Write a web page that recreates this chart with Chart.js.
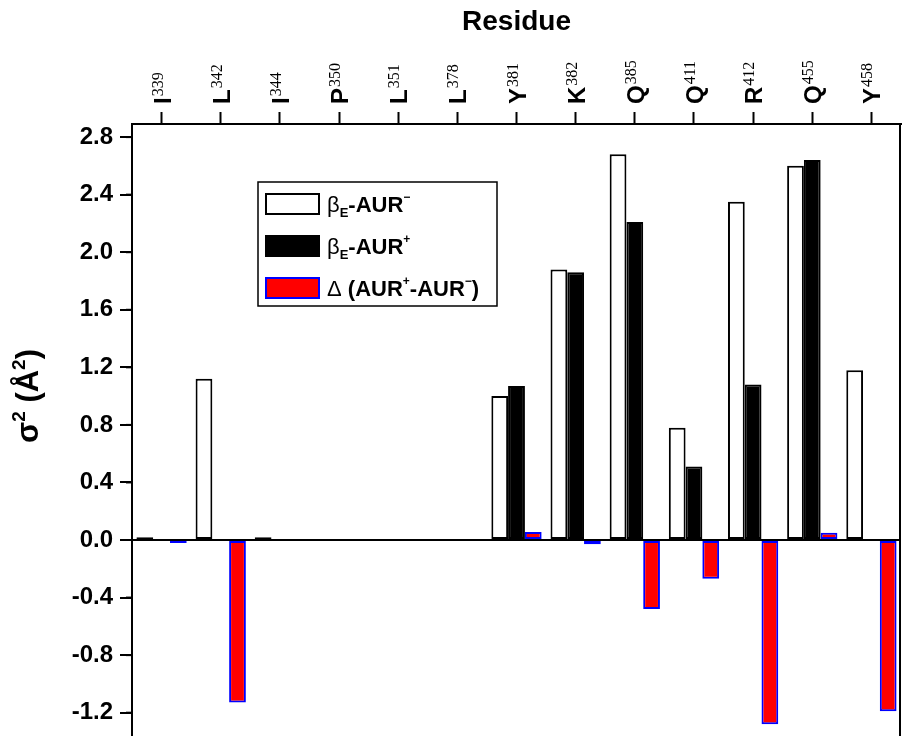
<!DOCTYPE html>
<html>
<head>
<meta charset="utf-8">
<script src="https://cdn.jsdelivr.net/npm/chart.js@4/dist/chart.umd.min.js"></script>
<style>
  html, body { margin: 0; padding: 0; background: #fff; overflow: hidden; }
</style>
</head>
<body>
<canvas id="chart" width="902" height="736"></canvas>
<script>
//? data
const residueLetters = ['I', 'L', 'I', 'P', 'L', 'L', 'Y', 'K', 'Q', 'Q', 'R', 'Q', 'Y'];
const residueNumbers = ['339', '342', '344', '350', '351', '378', '381', '382', '385', '411', '412', '455', '458'];
const aurMinusValues = [0.02, 1.12, 0.02, 0, 0, 0, 1.00, 1.88, 2.68, 0.78, 2.35, 2.60, 1.18];
const aurPlusValues = [0, 0, 0, 0, 0, 0, 1.07, 1.86, 2.21, 0.51, 1.08, 2.64, 0];
const deltaValues = [-0.02, -1.13, 0, 0, 0, 0, 0.055, -0.03, -0.48, -0.27, -1.28, 0.05, -1.19];
const yMin = -1.362;
const yMax = 2.891;
const yStep = 0.4;

const SANS = '"Liberation Sans", Arial, sans-serif';
const SERIF = '"Liberation Serif", "Times New Roman", serif';

// draw a run of text pieces (for sub/superscripts), returns total width
function drawRuns(ctx, runs, x, y, measureOnly) {
    let cx = x;
    runs.forEach(r => {
        ctx.font = r.font;
        if (!measureOnly) ctx.fillText(r.text, cx, y + (r.dy || 0));
        cx += ctx.measureText(r.text).width + (r.gap || 0);
    });
    return cx - x;
}

//? top residue labels, legend, y title, minor ticks, right frame
const decorPlugin = {
    id: 'decor',
    afterDraw: (chart) => {
        const { ctx, chartArea } = chart;
        const xScale = chart.scales.x;
        const yScale = chart.scales.y;
        ctx.save();
        ctx.fillStyle = '#000';
        ctx.strokeStyle = '#000';
        ctx.textAlign = 'left';
        ctx.textBaseline = 'alphabetic';

        // residue labels (rotated, letter + superscript number)
        residueLetters.forEach((letter, i) => {
            const x = xScale.getPixelForValue(i);
            ctx.save();
            ctx.translate(x + 9, 104);
            ctx.rotate(-Math.PI / 2);
            drawRuns(ctx, [
                { text: letter, font: 'bold 24px ' + SANS, gap: 1 },
                { text: residueNumbers[i], font: '16px ' + SERIF, dy: -8 }
            ], 0, 0);
            ctx.restore();
        });

        // minor ticks on y
        ctx.lineWidth = 2;
        for (let v = -1.4; v < yMax; v += yStep) {
            const y = yScale.getPixelForValue(v + 0.2);
            if (y < chartArea.top || y > chartArea.bottom) continue;
            ctx.beginPath();
            ctx.moveTo(chartArea.left - 6, y);
            ctx.lineTo(chartArea.left, y);
            ctx.stroke();
        }

        // right frame line
        ctx.beginPath();
        ctx.moveTo(chartArea.right - 1, chartArea.top);
        ctx.lineTo(chartArea.right - 1, chartArea.bottom);
        ctx.stroke();

        // y axis title
        const yTitle = [
            { text: 'σ', font: 'bold 31px ' + SANS },
            { text: '2', font: 'bold 19px ' + SANS, dy: -13 },
            { text: ' (Å', font: 'bold 31px ' + SANS },
            { text: '2', font: 'bold 19px ' + SANS, dy: -13 },
            { text: ')', font: 'bold 31px ' + SANS }
        ];
        const titleWidth = drawRuns(ctx, yTitle, 0, 0, true);
        ctx.save();
        ctx.translate(38, 396 + titleWidth / 2);
        ctx.rotate(-Math.PI / 2);
        drawRuns(ctx, yTitle, 0, 0);
        ctx.restore();

        // legend
        const ds = chart.data.datasets;
        const box = { x: 258, y: 182, w: 239, h: 124 };
        ctx.lineWidth = 1.5;
        ctx.strokeRect(box.x, box.y, box.w, box.h);
        const legendTexts = [
            [
                { text: 'β', font: '22px ' + SANS },
                { text: 'E', font: 'bold 13px ' + SANS, dy: 5 },
                { text: '-AUR', font: 'bold 22px ' + SANS },
                { text: '−', font: 'bold 12px ' + SANS, dy: -11 }
            ],
            [
                { text: 'β', font: '22px ' + SANS },
                { text: 'E', font: 'bold 13px ' + SANS, dy: 5 },
                { text: '-AUR', font: 'bold 22px ' + SANS },
                { text: '+', font: 'bold 12px ' + SANS, dy: -11 }
            ],
            [
                { text: 'Δ', font: '22px ' + SANS },
                { text: ' (AUR', font: 'bold 22px ' + SANS },
                { text: '+', font: 'bold 12px ' + SANS, dy: -11 },
                { text: '-AUR', font: 'bold 22px ' + SANS },
                { text: '−', font: 'bold 12px ' + SANS, dy: -11 },
                { text: ')', font: 'bold 22px ' + SANS }
            ]
        ];
        legendTexts.forEach((runs, i) => {
            const cy = 204 + i * 42;
            ctx.fillStyle = ds[i].backgroundColor;
            ctx.fillRect(265, cy - 11, 55, 22);
            ctx.strokeStyle = ds[i].borderColor;
            ctx.lineWidth = 2;
            ctx.strokeRect(266, cy - 10, 53, 20);
            ctx.fillStyle = '#000';
            drawRuns(ctx, runs, 327, cy + 8);
        });
        ctx.restore();
    }
};

const chart = new Chart('chart', {
    type: 'bar',
    data: {
        labels: residueLetters.map((l, i) => l + residueNumbers[i]),
        datasets: [{
            label: 'βE-AUR−',
            data: aurMinusValues,
            backgroundColor: '#ffffff',
            borderColor: '#000000',
            borderWidth: 2,
            borderSkipped: false
        }, {
            label: 'βE-AUR+',
            data: aurPlusValues,
            backgroundColor: '#000000',
            borderColor: '#000000',
            borderWidth: 2,
            borderSkipped: false
        }, {
            label: 'Δ (AUR+-AUR−)',
            data: deltaValues,
            backgroundColor: '#ff0000',
            borderColor: '#0000ff',
            borderWidth: 2,
            borderSkipped: false
        }]
    },
    options: {
        responsive: false,
        animation: false,
        devicePixelRatio: 1,
        categoryPercentage: 0.85,
        barPercentage: 1.0,
        layout: { padding: { left: 0, top: 0, right: 1, bottom: 0 } },
        scales: {
            x: {
                position: 'top',
                offset: true,
                grid: {
                    offset: false,
                    drawOnChartArea: false,
                    color: '#000',
                    tickColor: '#000',
                    tickLength: 12,
                    tickWidth: 2
                },
                border: { display: true, color: '#000', width: 2 },
                ticks: { display: false },
                title: {
                    display: true,
                    text: 'Residue',
                    color: '#000',
                    font: { family: SANS, size: 28, weight: 'bold' },
                    padding: { top: 5, bottom: 0 }
                },
                afterFit: (scale) => { scale.height = 124; }
            },
            y: {
                min: yMin,
                max: yMax,
                z: 1,
                ticks: {
                    stepSize: yStep,
                    includeBounds: false,
                    color: '#000',
                    padding: 7,
                    font: { family: SANS, size: 24, weight: 'bold' },
                    callback: (value) => value.toFixed(1)
                },
                grid: {
                    color: (c) => (c.tick && Math.abs(c.tick.value) < 1e-9) ? '#000' : 'rgba(0,0,0,0)',
                    tickColor: '#000',
                    lineWidth: 2,
                    tickLength: 12,
                    tickWidth: 2
                },
                border: { display: true, color: '#000', width: 2 },
                afterFit: (scale) => {
                    scale.width = 132;
                    scale.paddingTop = 0;
                    scale.paddingBottom = 0;
                }
            }
        },
        plugins: {
            legend: { display: false },
            tooltip: { enabled: false }
        }
    },
    plugins: [decorPlugin]
});
</script>
</body>
</html>
